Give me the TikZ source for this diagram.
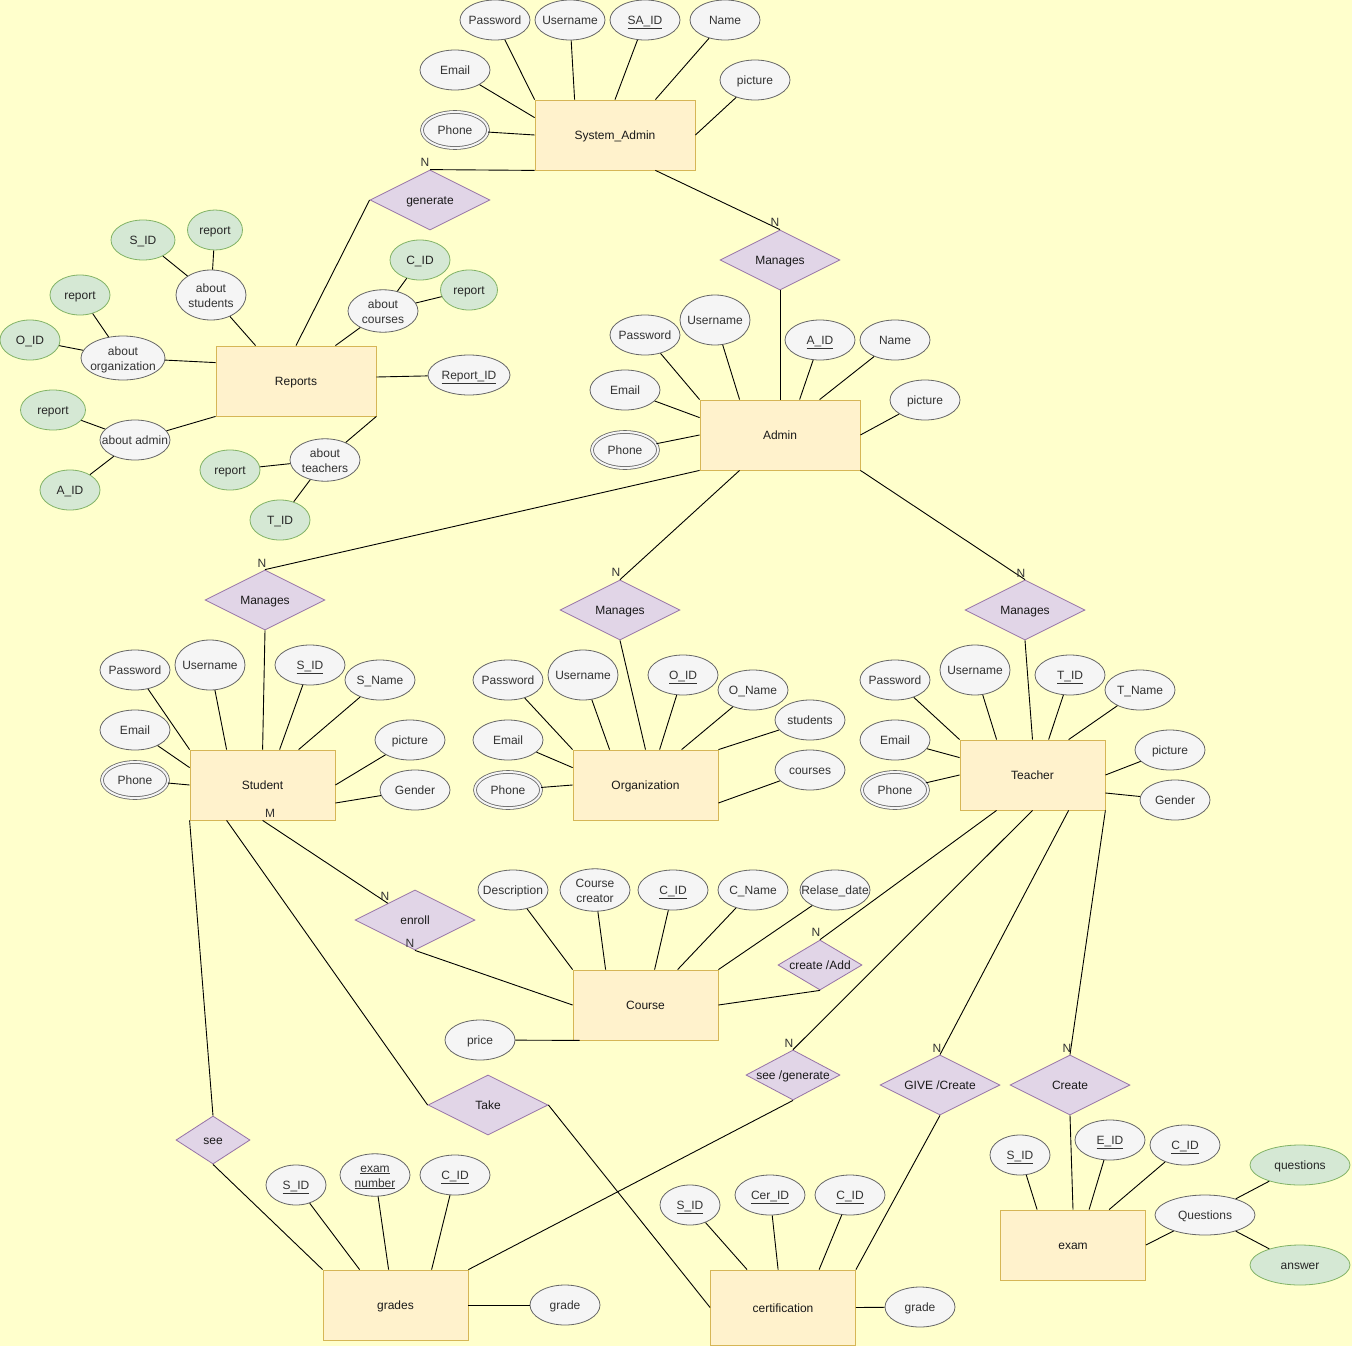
\documentclass[tikz,border=0pt]{standalone}
\usepackage{fontspec}
\setmainfont{Liberation Sans}
\usetikzlibrary{shapes.geometric,calc}
\definecolor{bgc}{HTML}{FFFFCC}
\definecolor{entF}{HTML}{FFF2CC}
\definecolor{entD}{HTML}{D6B656}
\definecolor{relF}{HTML}{E1D5E7}
\definecolor{relD}{HTML}{9673A6}
\definecolor{attF}{HTML}{F5F5F5}
\definecolor{attD}{HTML}{666666}
\definecolor{attT}{HTML}{333333}
\definecolor{grnF}{HTML}{D5E8D4}
\definecolor{grnD}{HTML}{82B366}
\newcommand\atx[1]{\makebox[0pt]{\raisebox{-1.5pt}[\height][\depth]{\begin{tabular}{@{}c@{}}#1\end{tabular}}}}
\tikzset{
  every node/.style={font=\fontsize{12}{15}\selectfont},
  ent/.style={rectangle, draw=entD, fill=entF, line width=0.8pt, minimum width=145, minimum height=70, inner sep=0, text=black!90},
  att/.style={ellipse, draw=attD, fill=attF, line width=0.8pt, minimum width=70, minimum height=40, inner sep=0, text=attT},
  gatt/.style={att, draw=grnD, fill=grnF, text=black!85},
  matt/.style={att, minimum width=66, minimum height=36, double=attF, double distance=2pt},
  rel/.style={diamond, draw=relD, fill=relF, line width=0.8pt, shape aspect=2, minimum width=120, minimum height=60, inner sep=0, text=black!90},
  ln/.style={draw=black, line width=0.9pt},
  card/.style={inner sep=0, text=black!80}
}
\begin{document}
\begin{tikzpicture}[x=1pt,y=-1pt]
\fill[bgc] (0,0) rectangle (1352,1346);
\useasboundingbox (0,0) rectangle (1352,1346);

% ---------- System_Admin ----------
\node[ent, minimum width=160] (sa) at (615,135) {\atx{System\_Admin}};
\node[att] (sapw) at (495,20) {\atx{Password}};
\node[att] (saun) at (570,20) {\atx{Username}};
\node[att] (said) at (645,20) {\atx{\underline{SA\_ID}}};
\node[att] (sanm) at (725,20) {\atx{Name}};
\node[att] (saem) at (455,70) {\atx{Email}};
\node[att] (sapic) at (755,80) {\atx{picture}};
\node[matt] (saph) at (455,130) {\atx{Phone}};
\draw[ln] (sapw) -- (sa.north west);
\draw[ln] (saun) -- ($(sa.north west)+(40,0)$);
\draw[ln] (said) -- (sa.north);
\draw[ln] (sanm) -- ($(sa.north east)+(-40,0)$);
\draw[ln] (saem) -- ($(sa.north west)+(0,18)$);
\draw[ln] (saph) -- (sa.west);
\draw[ln] (sapic) -- (sa.east);

% generate
\node[rel] (gen) at (430,200) {\atx{generate}};
\draw[ln] (gen.north) -- (sa.south west);
\node[card] (cgen) at (425,162) {N};

% Manages (admin)
\node[rel] (mgA) at (780,260) {\atx{Manages}};
\draw[ln] ($(sa.south east)+(-40,0)$) -- (mgA.north);
\node[card] (cmgA) at (775,222) {N};

% ---------- Admin ----------
\node[ent, minimum width=160] (ad) at (780,435) {\atx{Admin}};
\draw[ln] (mgA.south) -- (ad.north);
\node[att] (adpw) at (645,335) {\atx{Password}};
\node[att, minimum height=50] (adun) at (715,320) {\atx{Username}};
\node[att] (adid) at (820,340) {\atx{\underline{A\_ID}}};
\node[att] (adnm) at (895,340) {\atx{Name}};
\node[att] (adem) at (625,390) {\atx{Email}};
\node[att] (adpic) at (925,400) {\atx{picture}};
\node[matt] (adph) at (625,450) {\atx{Phone}};
\draw[ln] (adpw) -- (ad.north west);
\draw[ln] (adun) -- ($(ad.north west)+(40,0)$);
\draw[ln] (adid) -- ($(ad.north west)+(100,0)$);
\draw[ln] (adnm) -- ($(ad.north west)+(120,0)$);
\draw[ln] (adem) -- ($(ad.north west)+(0,18)$);
\draw[ln] (adph) -- (ad.west);
\draw[ln] (adpic) -- (ad.east);

% ---------- Reports ----------
\node[ent, minimum width=160] (rep) at (296,381) {\atx{Reports}};
\draw[ln] (rep.north) -- (gen.west);
\node[att, minimum height=50] (rabs) at (211,295) {\atx{about\\students}};
\node[gatt, minimum width=64] (rsid) at (143,240) {\atx{S\_ID}};
\node[gatt, minimum width=55] (rrep1) at (215,230) {\atx{report}};
\node[att] (rabc) at (383,311) {\atx{about\\courses}};
\node[gatt, minimum width=60] (rcid) at (420,260) {\atx{C\_ID}};
\node[gatt, minimum width=57] (rrep2) at (469,290) {\atx{report}};
\node[att, minimum width=84, minimum height=44] (rabo) at (123,358) {\atx{about\\organization}};
\node[gatt, minimum width=60] (rrep3) at (80,295) {\atx{report}};
\node[gatt, minimum width=60] (roid) at (30,340) {\atx{O\_ID}};
\node[att, minimum width=82] (rrid) at (469,375) {\atx{\underline{Report\_ID}}};
\node[att] (raba) at (135,440) {\atx{about admin}};
\node[gatt, minimum width=65] (rrep4) at (53,410) {\atx{report}};
\node[gatt, minimum width=60] (raid) at (70,490) {\atx{A\_ID}};
\node[att] (rabt) at (325,460) {\atx{about\\teachers}};
\node[gatt, minimum width=60] (rrep5) at (230,470) {\atx{report}};
\node[gatt, minimum width=60] (rtid) at (280,520) {\atx{T\_ID}};
\draw[ln] (rabs) -- ($(rep.north west)+(40,0)$);
\draw[ln] (rsid) -- (rabs);
\draw[ln] (rrep1) -- (rabs);
\draw[ln] (rabc) -- ($(rep.north east)+(-41,0)$);
\draw[ln] (rcid) -- (rabc);
\draw[ln] (rrep2) -- (rabc);
\draw[ln] (rabo) -- ($(rep.north west)+(0,17)$);
\draw[ln] (rrep3) -- (rabo);
\draw[ln] (roid) -- (rabo);
\draw[ln] ($(rep.east)+(0,-4)$) -- (rrid);
\draw[ln] (rep.south west) -- (raba);
\draw[ln] (rrep4) -- (raba);
\draw[ln] (raid) -- (raba);
\draw[ln] (rep.south east) -- (rabt);
\draw[ln] (rrep5) -- (rabt);
\draw[ln] (rtid) -- (rabt);

% ---------- Manages x3 ----------
\node[rel] (mgS) at (265,600) {\atx{Manages}};
\node[rel] (mgO) at (620,610) {\atx{Manages}};
\node[rel] (mgT) at (1025,610) {\atx{Manages}};
\draw[ln] (ad.south west) -- (mgS.north);
\draw[ln] ($(ad.south west)+(40,0)$) -- (mgO.north);
\draw[ln] (ad.south east) -- (mgT.north);
\node[card] (cmgS) at (262,563) {N};
\node[card] (cmgO) at (616,572) {N};
\node[card] (cmgT) at (1021,573) {N};

% ---------- Student ----------
\node[ent] (st) at (262.5,785) {\atx{Student}};
\draw[ln] (mgS.south) -- ($(st.north west)+(73,0)$);
\node[att] (stpw) at (135,670) {\atx{Password}};
\node[att, minimum height=50] (stun) at (210,665) {\atx{Username}};
\node[att] (stid) at (310,665) {\atx{\underline{S\_ID}}};
\node[att] (stnm) at (380,680) {\atx{S\_Name}};
\node[att] (stem) at (135,730) {\atx{Email}};
\node[att] (stpic) at (410,740) {\atx{picture}};
\node[matt] (stph) at (135,780) {\atx{Phone}};
\node[att] (stgd) at (415,790) {\atx{Gender}};
\draw[ln] (stpw) -- (st.north west);
\draw[ln] (stun) -- ($(st.north west)+(37,0)$);
\draw[ln] (stid) -- ($(st.north west)+(90,0)$);
\draw[ln] (stnm) -- ($(st.north west)+(109,0)$);
\draw[ln] (stem) -- ($(st.north west)+(0,18)$);
\draw[ln] (stph) -- (st.west);
\draw[ln] (stpic) -- (st.east);
\draw[ln] (stgd) -- ($(st.east)+(0,18)$);
\node[card] (cstM) at (270,813) {M};

% ---------- Organization ----------
\node[ent] (org) at (645.5,785) {\atx{Organization}};
\draw[ln] (mgO.south) -- (org.north);
\node[att] (orpw) at (508,680) {\atx{Password}};
\node[att, minimum height=50] (orun) at (583,675) {\atx{Username}};
\node[att] (orid) at (683,675) {\atx{\underline{O\_ID}}};
\node[att] (ornm) at (753,690) {\atx{O\_Name}};
\node[att] (orstu) at (810,720) {\atx{students}};
\node[att] (orem) at (508,740) {\atx{Email}};
\node[matt] (orph) at (508,790) {\atx{Phone}};
\node[att] (orco) at (810,770) {\atx{courses}};
\draw[ln] (orpw) -- (org.north west);
\draw[ln] (orun) -- ($(org.north west)+(37,0)$);
\draw[ln] (orid) -- ($(org.north west)+(87,0)$);
\draw[ln] (ornm) -- ($(org.north west)+(109,0)$);
\draw[ln] (orstu) -- (org.north east);
\draw[ln] (orem) -- ($(org.north west)+(0,18)$);
\draw[ln] (orph) -- (org.west);
\draw[ln] (orco) -- ($(org.east)+(0,18)$);

% ---------- Teacher ----------
\node[ent] (te) at (1032.5,775) {\atx{Teacher}};
\draw[ln] (mgT.south) -- (te.north);
\node[att] (tepw) at (895,680) {\atx{Password}};
\node[att, minimum height=50] (teun) at (975,670) {\atx{Username}};
\node[att] (teid) at (1070,675) {\atx{\underline{T\_ID}}};
\node[att] (tenm) at (1140,690) {\atx{T\_Name}};
\node[att] (teem) at (895,740) {\atx{Email}};
\node[att] (tepic) at (1170,750) {\atx{picture}};
\node[matt] (teph) at (895,790) {\atx{Phone}};
\node[att] (tegd) at (1175,800) {\atx{Gender}};
\draw[ln] (tepw) -- (te.north west);
\draw[ln] (teun) -- ($(te.north west)+(37,0)$);
\draw[ln] (teid) -- ($(te.north west)+(89,0)$);
\draw[ln] (tenm) -- ($(te.north west)+(109,0)$);
\draw[ln] (teem) -- ($(te.north west)+(0,18)$);
\draw[ln] (teph) -- (te.west);
\draw[ln] (tepic) -- (te.east);
\draw[ln] (tegd) -- ($(te.east)+(0,18)$);

% ---------- Course ----------
\node[ent] (co) at (645.5,1005) {\atx{Course}};
\node[att] (codes) at (513,890) {\atx{Description}};
\node[att] (cocr) at (595,890) {\atx{Course\\creator}};
\node[att] (coid) at (673,890) {\atx{\underline{C\_ID}}};
\node[att] (conm) at (753,890) {\atx{C\_Name}};
\node[att] (cord) at (835,890) {\atx{Relase\_date}};
\node[att] (copr) at (480,1040) {\atx{price}};
\draw[ln] (codes) -- (co.north west);
\draw[ln] (cocr) -- ($(co.north west)+(33,0)$);
\draw[ln] (coid) -- ($(co.north west)+(82,0)$);
\draw[ln] (conm) -- ($(co.north west)+(105,0)$);
\draw[ln] (cord) -- (co.north east);
\draw[ln] (copr) -- ($(co.south west)+(7,0)$);

% enroll
\node[rel] (enr) at (415,920) {\atx{enroll}};
\draw[ln] ($(st.south west)+(73,0)$) -- ($(enr.west)!0.55!(enr.north)$);
\draw[ln] (enr.south) -- (co.west);
\node[card] (cenr1) at (385,896) {N};
\node[card] (cenr2) at (410,943) {N};

% create /Add
\node[rel, minimum width=84, minimum height=50] (cra) at (820,965) {\atx{create /Add}};
\draw[ln] ($(te.south west)+(37,0)$) -- (cra.north);
\draw[ln] (cra.south) -- (co.east);
\node[card] (ccra) at (816,932) {N};

% ---------- lower relations ----------
\node[rel, minimum width=94, minimum height=50] (sg) at (793,1075) {\atx{see /generate}};
\node[rel] (gc) at (940,1085) {\atx{GIVE /Create}};
\node[rel] (cr) at (1070,1085) {\atx{Create}};
\node[rel] (take) at (488,1105) {\atx{Take}};
\node[rel, minimum width=74, minimum height=48] (see) at (213,1140) {\atx{see}};
\draw[ln] (te.south) -- (sg.north);
\draw[ln] ($(te.south west)+(109,0)$) -- (gc.north);
\draw[ln] (te.south east) -- (cr.north);
\node[card] (csg) at (789,1043) {N};
\node[card] (cgc) at (937,1048) {N};
\node[card] (ccr) at (1067,1048) {N};
\draw[ln] ($(st.south west)+(37,0)$) -- (take.west);
\draw[ln] (st.south west) -- (see.north);

% ---------- grades ----------
\node[ent] (gr) at (395.5,1305) {\atx{grades}};
\node[att, minimum width=60] (grsid) at (296,1185) {\atx{\underline{S\_ID}}};
\node[att] (grex) at (375,1175) {\atx{\underline{exam}\\\underline{number}}};
\node[att] (grcid) at (455,1175) {\atx{\underline{C\_ID}}};
\node[att] (grgd) at (565,1305) {\atx{grade}};
\draw[ln] (grsid) -- ($(gr.north west)+(37,0)$);
\draw[ln] (grex) -- ($(gr.north west)+(66,0)$);
\draw[ln] (grcid) -- ($(gr.north west)+(109,0)$);
\draw[ln] (grgd) -- (gr.east);
\draw[ln] (see.south) -- (gr.north west);
\draw[ln] (sg.south) -- (gr.north east);

% ---------- certification ----------
\node[ent, minimum height=75] (ce) at (783,1307.5) {\atx{certification}};
\node[att, minimum width=60] (cesid) at (690,1205) {\atx{\underline{S\_ID}}};
\node[att] (ceid) at (770,1195) {\atx{\underline{Cer\_ID}}};
\node[att] (cecid) at (850,1195) {\atx{\underline{C\_ID}}};
\node[att] (cegd) at (920,1307) {\atx{grade}};
\draw[ln] (cesid) -- ($(ce.north west)+(37,0)$);
\draw[ln] (ceid) -- ($(ce.north west)+(68,0)$);
\draw[ln] (cecid) -- ($(ce.north west)+(109,0)$);
\draw[ln] (cegd) -- (ce.east);
\draw[ln] (take.east) -- (ce.west);
\draw[ln] (gc.south) -- (ce.north east);

% ---------- exam ----------
\node[ent] (ex) at (1073,1245) {\atx{exam}};
\node[att, minimum width=60] (exsid) at (1020,1155) {\atx{\underline{S\_ID}}};
\node[att] (exeid) at (1110,1140) {\atx{\underline{E\_ID}}};
\node[att] (excid) at (1185,1145) {\atx{\underline{C\_ID}}};
\node[att, minimum width=100] (exq) at (1205,1215) {\atx{Questions}};
\node[gatt, minimum width=100] (exqq) at (1300,1165) {\atx{questions}};
\node[gatt, minimum width=100] (exqa) at (1300,1265) {\atx{answer}};
\draw[ln] (cr.south) -- (ex.north);
\draw[ln] (exsid) -- ($(ex.north west)+(37,0)$);
\draw[ln] (exeid) -- ($(ex.north west)+(89,0)$);
\draw[ln] (excid) -- ($(ex.north west)+(109,0)$);
\draw[ln] (exq) -- (ex.east);
\draw[ln] (exq) -- (exqq);
\draw[ln] (exq) -- (exqa);
\end{tikzpicture}
\end{document}
